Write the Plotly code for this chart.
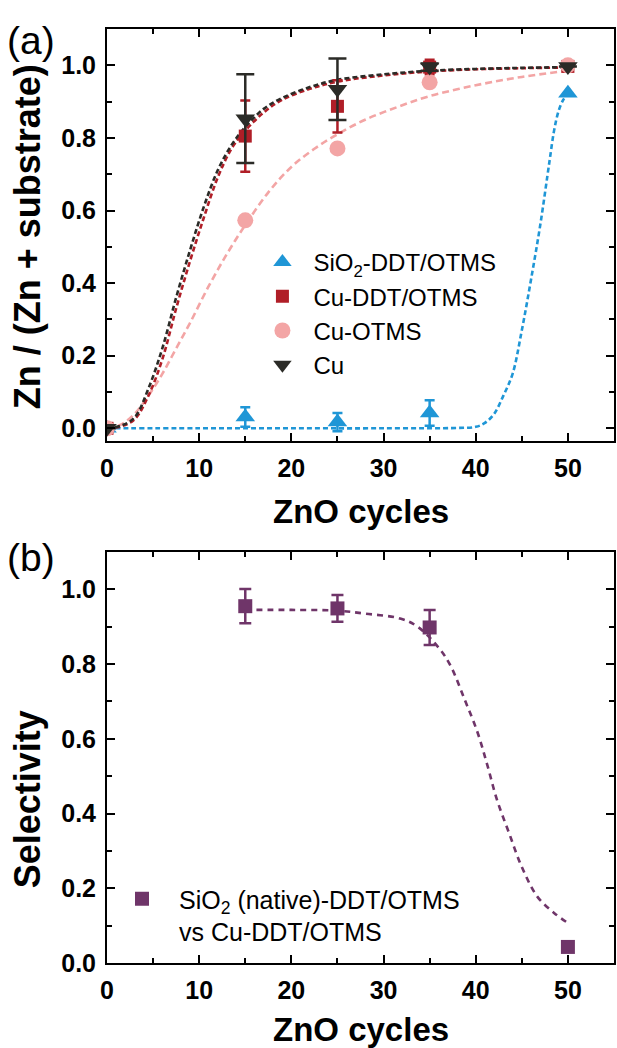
import plotly.graph_objects as go

# ---------------- data ----------------
cycles = [0, 15, 25, 35, 50]

sio2_y = [0.0, 0.031, 0.017, 0.042, 0.923]
sio2_err = [0.0, 0.027, 0.025, 0.035, 0.0]

cuddt_y = [0.0, 0.805, 0.887, 0.995, 0.997]
cuddt_err = [0.0, 0.098, 0.072, 0.02, 0.0]

cuotms_y = [0.0, 0.573, 0.771, 0.953, 1.0]

cu_y = [0.0, 0.853, 0.934, 0.995, 0.997]
cu_err = [0.0, 0.122, 0.085, 0.01, 0.0]

# dashed fit curves
fit_sio2_x = [0, 10, 20, 30, 38, 40, 41, 42, 43, 44, 45, 46, 47, 48, 48.5, 49, 49.5, 50]
fit_sio2_y = [0.0, 0.0, 0.0, 0.0, 0.001, 0.004, 0.015, 0.04, 0.09, 0.15, 0.27, 0.41, 0.56, 0.735, 0.82, 0.875, 0.905, 0.92]

fit_cu_x = [0, 1.5, 3, 4.5, 6, 7.5, 9, 10.5, 12, 13.5, 15, 17, 19, 22, 25, 30, 35, 40, 45, 50]
fit_cu_y = [0.0, 0.007, 0.03, 0.11, 0.22, 0.36, 0.49, 0.61, 0.71, 0.78, 0.83, 0.88, 0.91, 0.94, 0.96, 0.975, 0.985, 0.99, 0.993, 0.995]

fit_cuddt_x = [0, 1.5, 3, 4.5, 6, 7.5, 9, 10.5, 12, 13.5, 15, 17, 19, 22, 25, 30, 35, 40, 45, 50]
fit_cuddt_y = [0.0, 0.005, 0.025, 0.09, 0.19, 0.33, 0.46, 0.58, 0.69, 0.77, 0.82, 0.87, 0.905, 0.935, 0.955, 0.972, 0.983, 0.989, 0.992, 0.994]

fit_cuotms_x = [0, 1.5, 3, 4.5, 6, 7.5, 9, 11, 13, 15, 17.5, 20, 22.5, 25, 28, 31.5, 35, 40, 45, 50]
fit_cuotms_y = [0.0, 0.01, 0.04, 0.09, 0.15, 0.22, 0.29, 0.39, 0.48, 0.56, 0.65, 0.72, 0.77, 0.81, 0.85, 0.885, 0.915, 0.945, 0.968, 0.985]

sel_x = [15, 25, 35, 50]
sel_y = [0.955, 0.949, 0.898, 0.043]
sel_err = [0.046, 0.036, 0.047, 0.0]

fit_sel_x = [15, 20, 25, 28, 31.8, 33.7, 36.1, 37.3, 38.8, 40.2, 41.3, 42.3, 43.6, 45, 46.7, 48.5, 50]
fit_sel_y = [0.945, 0.945, 0.943, 0.935, 0.922, 0.90, 0.84, 0.794, 0.705, 0.617, 0.526, 0.437, 0.349, 0.257, 0.177, 0.134, 0.107]

x_ticks = [0, 10, 20, 30, 40, 50]
y_ticks = [0.0, 0.2, 0.4, 0.6, 0.8, 1.0]

# ---------------- style ----------------
BLUE = "#1f96d6"
RED = "#b01e27"
PINK = "#f3a5a5"
BLACK = "#2b2b27"
PURPLE = "#6f3569"
FONT = "Arial, Liberation Sans, sans-serif"

W, H = 617, 1048
ML, MR, MT, MB = 107, 1, 29, 85

fig = go.Figure()

# fits (top)
for fx, fy, col, dash in [
    (fit_sio2_x, fit_sio2_y, BLUE, "5px,3px"),
    (fit_cuotms_x, fit_cuotms_y, PINK, "7px,4px"),
    (fit_cuddt_x, fit_cuddt_y, RED, "5px,3px"),
    (fit_cu_x, fit_cu_y, BLACK, "5px,3px"),
]:
    fig.add_trace(go.Scatter(x=fx, y=fy, mode="lines", line=dict(color=col, width=2.6, dash=dash, shape="spline"),
                             showlegend=False, hoverinfo="skip", xaxis="x", yaxis="y"))

# data (top)
fig.add_trace(go.Scatter(x=cycles, y=sio2_y, mode="markers", name="SiO<sub>2</sub>-DDT/OTMS",
                         marker=dict(symbol="triangle-up", size=17, color=BLUE),
                         error_y=dict(type="data", array=sio2_err, color=BLUE, thickness=2.5, width=5),
                         xaxis="x", yaxis="y", legend="legend"))
fig.add_trace(go.Scatter(x=cycles, y=cuddt_y, mode="markers", name="Cu-DDT/OTMS",
                         marker=dict(symbol="square", size=13, color=RED),
                         error_y=dict(type="data", array=cuddt_err, color=RED, thickness=2.5, width=5),
                         xaxis="x", yaxis="y", legend="legend"))
fig.add_trace(go.Scatter(x=cycles, y=cuotms_y, mode="markers", name="Cu-OTMS",
                         marker=dict(symbol="circle", size=16, color=PINK),
                         xaxis="x", yaxis="y", legend="legend"))
fig.add_trace(go.Scatter(x=cycles, y=cu_y, mode="markers", name="Cu",
                         marker=dict(symbol="triangle-down", size=17, color=BLACK),
                         error_y=dict(type="data", array=cu_err, color=BLACK, thickness=2.5, width=9),
                         xaxis="x", yaxis="y", legend="legend"))

# bottom
fig.add_trace(go.Scatter(x=fit_sel_x, y=fit_sel_y, mode="lines",
                         line=dict(color=PURPLE, width=2.6, dash="6px,5px", shape="spline"),
                         showlegend=False, hoverinfo="skip", xaxis="x2", yaxis="y2"))
fig.add_trace(go.Scatter(x=sel_x, y=sel_y, mode="markers",
                         name="SiO<sub>2</sub> (native)-DDT/OTMS<br>vs Cu-DDT/OTMS",
                         marker=dict(symbol="square", size=14, color=PURPLE),
                         error_y=dict(type="data", array=sel_err, color=PURPLE, thickness=2.5, width=6),
                         xaxis="x2", yaxis="y2", legend="legend2"))

top_dom = [(963 - 441) / (H - MT - MB), 1.0]
bot_dom = [0.0, (963 - 552) / (H - MT - MB)]

def xax(anchor):
    return dict(range=[0, 55], tickvals=x_ticks, ticks="inside", ticklen=8, tickwidth=2, tickcolor="black",
                minor=dict(dtick=5, tick0=0, ticks="inside", ticklen=5, tickwidth=2, tickcolor="black"),
                showline=True, linewidth=2, linecolor="black", mirror="allticks", showgrid=False, zeroline=False,
                tickfont=dict(family=FONT, size=25, color="black", weight="bold"), anchor=anchor,
                ticklabelstandoff=4)

def yax(rng, dom, anchor):
    return dict(range=rng, domain=dom, tickvals=y_ticks, tickformat=".1f", ticks="inside", ticklen=8, tickwidth=2,
                tickcolor="black",
                minor=dict(dtick=0.1, tick0=0, ticks="inside", ticklen=5, tickwidth=2, tickcolor="black"),
                showline=True, linewidth=2, linecolor="black", mirror="allticks", showgrid=False, zeroline=False,
                tickfont=dict(family=FONT, size=25, color="black", weight="bold"), anchor=anchor,
                ticklabelstandoff=4)

PH = H - MT - MB
PW = W - ML - MR

def px(xp):
    return (xp - ML) / PW

def py(yp):
    return (H - MB - yp) / PH

fig.update_layout(
    width=W, height=H, margin=dict(l=ML, r=MR, t=MT, b=MB),
    paper_bgcolor="white", plot_bgcolor="white",
    xaxis=xax("y"), yaxis=yax([-0.035, 1.1], top_dom, "x"),
    xaxis2=xax("y2"), yaxis2=yax([0, 1.1], bot_dom, "x2"),
    legend=dict(x=px(252), y=py(240), xanchor="left", yanchor="top", bgcolor="rgba(0,0,0,0)",
                font=dict(family=FONT, size=24, color="black"), itemwidth=52, tracegroupgap=0),
    legend2=dict(x=px(105), y=py(876), xanchor="left", yanchor="top", bgcolor="rgba(0,0,0,0)",
                 font=dict(family=FONT, size=25, color="black"), itemwidth=64, valign="top"),
    showlegend=True,
    annotations=[
        dict(text="(a)", x=px(31), y=py(41), xref="paper", yref="paper", showarrow=False,
             font=dict(family=FONT, size=39, color="black"), xanchor="center", yanchor="middle"),
        dict(text="(b)", x=px(31), y=py(557), xref="paper", yref="paper", showarrow=False,
             font=dict(family=FONT, size=39, color="black"), xanchor="center", yanchor="middle"),
        dict(text="ZnO cycles", x=px(362), y=py(511), xref="paper", yref="paper", showarrow=False,
             font=dict(family=FONT, size=33, color="black", weight="bold"), xanchor="center", yanchor="middle"),
        dict(text="ZnO cycles", x=px(362), y=py(1029), xref="paper", yref="paper", showarrow=False,
             font=dict(family=FONT, size=33, color="black", weight="bold"), xanchor="center", yanchor="middle"),
        dict(text="Zn / (Zn + substrate)", x=px(27), y=py(237), xref="paper", yref="paper", showarrow=False,
             textangle=-90, font=dict(family=FONT, size=36, color="black", weight="bold"),
             xanchor="center", yanchor="middle"),
        dict(text="Selectivity", x=px(27), y=py(799), xref="paper", yref="paper", showarrow=False,
             textangle=-90, font=dict(family=FONT, size=36, color="black", weight="bold"),
             xanchor="center", yanchor="middle"),
    ],
)

fig.write_html("out.html")
